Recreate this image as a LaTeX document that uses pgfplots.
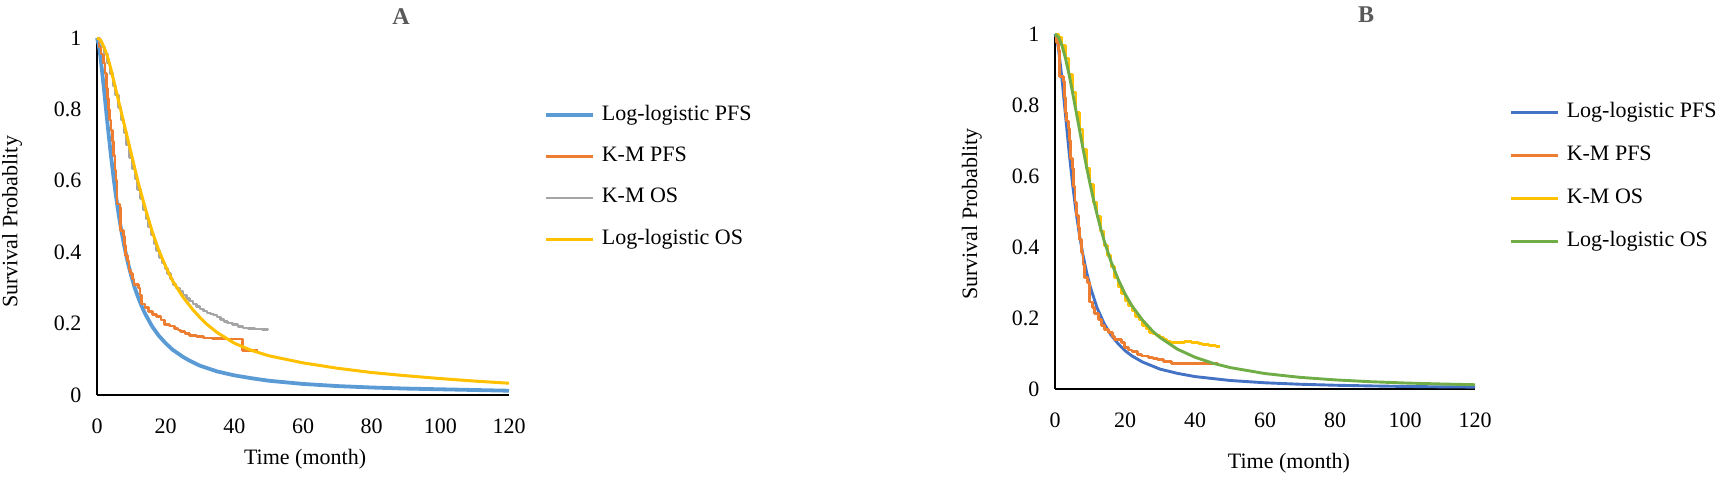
\documentclass[border=0pt]{standalone}
\usepackage{fontspec}
\setmainfont{Liberation Serif}
\usepackage{pgfplots}
\pgfplotsset{compat=1.18}
\definecolor{cblueA}{HTML}{5B9BD5}
\definecolor{cblueB}{HTML}{4472C4}
\definecolor{corange}{HTML}{ED7D31}
\definecolor{cgray}{HTML}{A5A5A5}
\definecolor{cyellow}{HTML}{FFC000}
\definecolor{cgreen}{HTML}{70AD47}
\definecolor{ctitle}{HTML}{595959}
\pgfplotsset{
  survstyle/.style={
    scale only axis,
    xmin=0, xmax=120, ymin=0, ymax=1,
    axis x line=bottom, axis y line=left,
    axis line style={-, black, line width=0.7pt},
    major tick length=0pt,
    xtick={0,20,40,60,80,100,120},
    xticklabels={0,20,40,60,80,100,120},
    ytick={0,0.2,0.4,0.6,0.8,1},
    yticklabels={0,0.2,0.4,0.6,0.8,1},
    xticklabel style={yshift=-8pt},
    yticklabel style={xshift=-4pt},
    clip=false,
    legend cell align=left,
    legend image code/.code={\draw[##1] (0pt,0pt) -- (23.5pt,0pt);},
    every axis plot/.append style={line join=round},
    xlabel={Time (month)},
    ylabel={Survival Probablity},
  }
}
\begin{document}
\fontsize{11}{13}\selectfont
\begin{tikzpicture}
\useasboundingbox (0,0) rectangle (858pt,238.5pt);
% ---------------- Panel A ----------------
\begin{axis}[survstyle,
  at={(48.5pt,41pt)}, anchor=south west, width=206pt, height=178.5pt,
  xlabel style={at={(axis description cs:0.505,-0.179)}, anchor=center},
  ylabel style={at={(axis description cs:-0.206,0.485)}, anchor=center},
  legend style={draw=none, fill=none, at={(axis description cs:1.085,0.812)}, anchor=north west,
    inner sep=0pt, outer sep=0pt, row sep=10.7pt, column sep=3.5pt,
    nodes={inner sep=0pt, text height=7.5pt, text depth=2.5pt}},
]
\addplot[cblueA, line width=1.9pt] coordinates {
(0,1) (0.5,0.982) (1,0.948) (2,0.860) (3,0.765) (4,0.676) (5,0.595) (6,0.525) (7,0.465) (8,0.414)
(9,0.370) (10,0.333) (11,0.300) (12,0.273) (13,0.249) (14,0.228) (16,0.193) (18,0.166) (20,0.145)
(22,0.127) (25,0.107) (27,0.096) (30,0.082) (35,0.066) (40,0.055) (45,0.047) (50,0.040) (60,0.031)
(70,0.025) (80,0.021) (90,0.018) (100,0.016) (110,0.014) (120,0.012)};
\addlegendentry{Log-logistic PFS}
\addplot[corange, line width=1.35pt, const plot] coordinates {
(0,1) (0.6,0.975) (1.2,0.955) (1.8,0.93) (2.3,0.90) (2.7,0.86) (3.0,0.83) (3.4,0.80) (3.7,0.77)
(4.1,0.74) (4.5,0.71) (4.8,0.67) (5.2,0.63) (5.5,0.60) (5.8,0.535) (6.7,0.525) (6.9,0.46) (7.7,0.445)
(8.1,0.42) (8.4,0.39) (8.9,0.375) (9.3,0.35) (9.7,0.34) (10.3,0.325) (10.8,0.31) (12.1,0.30)
(12.5,0.28) (12.9,0.255) (14.0,0.245) (15.0,0.233) (16.2,0.225) (17.3,0.219) (18.6,0.21) (19.6,0.198)
(21.2,0.193) (22.5,0.187) (23.6,0.182) (24.4,0.177) (25.6,0.172) (27.0,0.167) (29.0,0.163) (31.0,0.160)
(33.5,0.158) (36.5,0.157) (42.3,0.125) (47.0,0.125)};
\addlegendentry{K-M PFS}
\addplot[cgray, line width=1.25pt, const plot] coordinates {
(0,1) (0.8,0.99) (1.5,0.975) (2.2,0.955) (3.0,0.93) (3.8,0.90) (4.6,0.865) (5.4,0.84) (6.2,0.805)
(7.0,0.77) (7.8,0.735) (8.6,0.70) (9.4,0.665) (10.2,0.635) (11.0,0.605) (11.8,0.575) (12.6,0.55)
(13.4,0.52) (14.2,0.495) (15.0,0.47) (15.8,0.45) (16.6,0.425) (17.4,0.405) (18.2,0.385) (19.0,0.37)
(19.8,0.355) (20.6,0.34) (21.4,0.325) (22.2,0.31) (23.0,0.30) (24.0,0.29) (25.0,0.28) (26.0,0.27)
(27.0,0.263) (28.0,0.255) (29.0,0.248) (30.0,0.241) (31.0,0.235) (32.0,0.23) (33.0,0.227) (34.0,0.224)
(35.0,0.218) (36.0,0.212) (37.0,0.206) (38.0,0.201) (39.5,0.197) (41.0,0.192) (42.5,0.188) (44.0,0.186)
(46.0,0.185) (48.0,0.184) (49.8,0.183)};
\addlegendentry{K-M OS}
\addplot[cyellow, line width=1.5pt] coordinates {
(0,1) (1,0.995) (2,0.975) (3,0.95) (4,0.915) (5,0.875) (6,0.835) (7,0.795) (8,0.755) (9,0.715)
(10,0.675) (12,0.595) (14,0.525) (16,0.46) (18,0.405) (20,0.36) (22,0.32) (25,0.275) (28,0.238)
(30,0.217) (32,0.198) (35,0.175) (40,0.145) (45,0.125) (50,0.11) (55,0.10) (60,0.09) (70,0.075)
(80,0.063) (90,0.054) (100,0.046) (110,0.039) (120,0.033)};
\addlegendentry{Log-logistic OS}
\end{axis}
% ---------------- Panel B ----------------
\begin{axis}[survstyle,
  at={(527.5pt,44pt)}, anchor=south west, width=210pt, height=177.5pt,
  xlabel style={at={(axis description cs:0.557,-0.208)}, anchor=center},
  ylabel style={at={(axis description cs:-0.198,0.493)}, anchor=center},
  legend style={draw=none, fill=none, at={(axis description cs:1.083,0.808)}, anchor=north west,
    inner sep=0pt, outer sep=0pt, row sep=11.5pt, column sep=3.5pt,
    nodes={inner sep=0pt, text height=7.5pt, text depth=2.5pt}},
]
\addplot[cblueB, line width=1.45pt] coordinates {
(0,1) (0.5,0.987) (1,0.958) (2,0.873) (3,0.771) (4,0.670) (5,0.579) (6,0.5) (7,0.433) (8,0.377)
(9,0.33) (10,0.290) (12,0.229) (14,0.185) (16,0.152) (18,0.128) (20,0.108) (22,0.093) (25,0.076)
(30,0.056) (35,0.044) (40,0.035) (50,0.024) (60,0.0175) (70,0.0134) (80,0.0106) (90,0.0087)
(100,0.0072) (110,0.0061) (120,0.0053)};
\addlegendentry{Log-logistic PFS}
\addplot[corange, line width=1.45pt, const plot] coordinates {
(0,1) (0.5,0.975) (0.9,0.955) (1.3,0.88) (2.3,0.865) (2.6,0.82) (2.9,0.78) (3.4,0.755) (3.8,0.735)
(4.1,0.70) (4.3,0.65) (4.9,0.62) (5.3,0.57) (5.7,0.525) (6.2,0.49) (6.7,0.455) (7.1,0.42) (7.6,0.385)
(8.0,0.35) (8.4,0.315) (9.4,0.30) (9.9,0.245) (10.6,0.23) (11.4,0.212) (12.3,0.195) (13.3,0.18)
(14.2,0.168) (15.2,0.158) (16.3,0.148) (17.1,0.14) (19.0,0.132) (19.9,0.116) (21.0,0.11) (22.0,0.105)
(23.5,0.098) (24.7,0.093) (26.6,0.09) (28.0,0.086) (29.4,0.082) (31.0,0.077) (33.2,0.072) (36.0,0.071)
(46.6,0.071)};
\addlegendentry{K-M PFS}
\addplot[cyellow, line width=1.45pt, const plot] coordinates {
(0,1) (1,0.99) (2,0.967) (3,0.93) (4,0.885) (5,0.835) (6,0.78) (7,0.73) (8,0.675) (9,0.62)
(10,0.575) (11,0.525) (12,0.485) (13,0.445) (14,0.405) (15,0.375) (16,0.345) (17,0.315) (18,0.29)
(19,0.27) (20,0.25) (21,0.235) (22,0.22) (23,0.205) (24,0.195) (25,0.18) (26,0.17) (27,0.16)
(28,0.155) (29,0.15) (30,0.145) (31,0.14) (32,0.135) (33,0.132) (37,0.133) (39,0.131) (41,0.128)
(42,0.125) (44,0.122) (46,0.12) (47,0.12)};
\addlegendentry{K-M OS}
\addplot[cgreen, line width=1.45pt] coordinates {
(0,1) (1,0.991) (2,0.967) (3,0.931) (4,0.887) (5,0.836) (6,0.783) (7,0.730) (8,0.677) (9,0.626)
(10,0.578) (11,0.533) (12,0.492) (13,0.454) (14,0.419) (16,0.359) (18,0.310) (20,0.268) (22,0.234)
(25,0.194) (28,0.162) (30,0.145) (35,0.112) (40,0.0895) (45,0.0729) (50,0.0604) (60,0.0435)
(70,0.0328) (80,0.0257) (90,0.0206) (100,0.0169) (110,0.0142) (120,0.012)};
\addlegendentry{Log-logistic OS}
\end{axis}
\node[font=\bfseries\fontsize{12}{14}\selectfont, text=ctitle, anchor=center, inner sep=0pt] at (200.5pt,230pt) {A};
\node[font=\bfseries\fontsize{12}{14}\selectfont, text=ctitle, anchor=center, inner sep=0pt] at (683pt,231pt) {B};
\end{tikzpicture}
\end{document}
